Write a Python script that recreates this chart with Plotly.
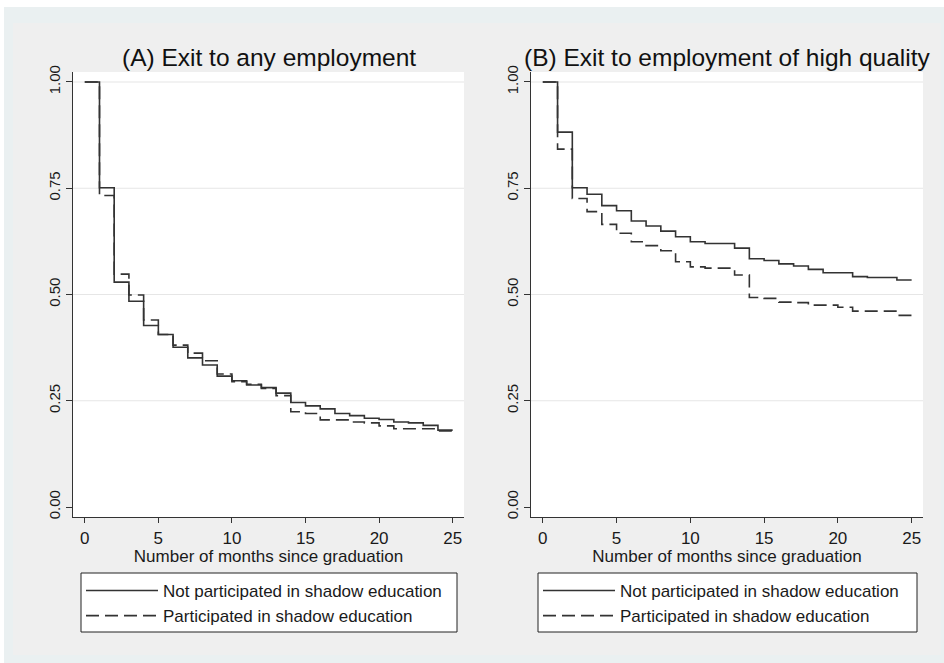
import plotly.graph_objects as go

# ---------------- data ----------------
months = list(range(0, 25))          # start of each monthly interval
end_month = 25

a_not = [1.000, 0.751, 0.529, 0.484, 0.427, 0.406, 0.376, 0.351, 0.334, 0.308,
         0.297, 0.287, 0.281, 0.268, 0.246, 0.238, 0.231, 0.220, 0.215, 0.209,
         0.206, 0.200, 0.198, 0.192, 0.181]
a_part = [1.000, 0.733, 0.548, 0.499, 0.440, 0.406, 0.381, 0.362, 0.344, 0.313,
          0.295, 0.289, 0.279, 0.262, 0.224, 0.220, 0.205, 0.205, 0.200, 0.198,
          0.191, 0.184, 0.184, 0.184, 0.179]
b_not = [1.000, 0.882, 0.751, 0.736, 0.709, 0.697, 0.673, 0.661, 0.649, 0.636,
         0.624, 0.620, 0.620, 0.609, 0.584, 0.580, 0.572, 0.567, 0.559, 0.551,
         0.551, 0.542, 0.540, 0.540, 0.534]
b_part = [1.000, 0.842, 0.726, 0.695, 0.665, 0.644, 0.624, 0.615, 0.603, 0.577,
          0.565, 0.562, 0.562, 0.546, 0.493, 0.491, 0.482, 0.481, 0.475, 0.475,
          0.470, 0.461, 0.461, 0.461, 0.451]

series_names = ["Not participated in shadow education",
                "Participated in shadow education"]
panel_titles = ["(A) Exit to any employment",
                "(B) Exit to employment of high quality"]
x_title = "Number of months since graduation"
x_ticks = [0, 5, 10, 15, 20, 25]
y_ticks = [0.00, 0.25, 0.50, 0.75, 1.00]
grid_y = [0.25, 0.50, 0.75, 1.00]

# ---------------- layout constants ----------------
W, H = 944, 663
FONT = "Liberation Sans, Arial, sans-serif"
LINE_COL = "#333333"
DASH = "13px,6px"

def px_x(p):
    return p / W

def px_y(p):
    return (H - p) / H

xa_dom = [px_x(73), px_x(464)]
xb_dom = [px_x(531), px_x(923)]
y_dom = [px_y(517), px_y(72)]

fig = go.Figure()

def km(vals):
    return months + [end_month], vals + [vals[-1]]

panels = [("x", "y", "legend", a_not, a_part),
          ("x2", "y2", "legend2", b_not, b_part)]
for xa, ya, lg, s_not, s_part in panels:
    for vals, name, dash in [(s_not, series_names[0], "solid"),
                             (s_part, series_names[1], DASH)]:
        xs, ys = km(vals)
        fig.add_trace(go.Scatter(
            x=xs, y=ys, mode="lines", name=name,
            line=dict(shape="hv", color=LINE_COL, width=1.6, dash=dash),
            xaxis=xa, yaxis=ya, legend=lg, showlegend=True,
            hoverinfo="skip"))

axis_common = dict(
    showline=True, linecolor=LINE_COL, linewidth=1.2, automargin=False,
    ticks="outside", tickcolor=LINE_COL, showgrid=False, zeroline=False,
    tickfont=dict(family=FONT, size=17, color="#1a1a1a"),
)
xcommon = dict(axis_common, tickvals=x_ticks, ticklen=5, range=[-0.8, 25.77],
               title=dict(text=x_title, font=dict(family=FONT, size=17, color="#1a1a1a"),
                          standoff=0))
ycommon = dict(axis_common, tickvals=y_ticks, tickformat=".2f", ticklen=6,
               tickangle=-90, range=[-0.0235, 1.0235], domain=y_dom,
               tickfont=dict(family=FONT, size=15, color="#1a1a1a"))

shapes = [
    dict(type="rect", xref="paper", yref="paper", x0=px_x(4), x1=1, y0=0, y1=px_y(7),
         fillcolor="#eaf0f1", line=dict(width=0), layer="below"),
    dict(type="rect", xref="paper", yref="paper", x0=px_x(13), x1=px_x(941),
         y0=px_y(655), y1=px_y(23), fillcolor="#efefef", line=dict(width=0), layer="below"),
]
for xr, yr in [("x", "y"), ("x2", "y2")]:
    shapes.append(dict(type="rect", xref=f"{xr} domain", yref=f"{yr} domain",
                       x0=0, x1=1, y0=0, y1=1, fillcolor="white",
                       line=dict(width=0), layer="below"))
    for g in grid_y:
        shapes.append(dict(type="line", xref=f"{xr} domain", yref=yr,
                           x0=0, x1=1, y0=g, y1=g,
                           line=dict(color="#e6e6e6", width=1.2), layer="below"))
# legend boxes
for x0, x1 in [(81, 457), (538, 917)]:
    shapes.append(dict(type="rect", xref="paper", yref="paper",
                       x0=px_x(x0), x1=px_x(x1), y0=px_y(632), y1=px_y(573),
                       fillcolor="white", line=dict(color="#222222", width=1),
                       layer="below"))

annotations = []
for dom, t in [(xa_dom, panel_titles[0]), (xb_dom, panel_titles[1])]:
    annotations.append(dict(text=t, xref="paper", yref="paper",
                            x=(dom[0] + dom[1]) / 2, y=px_y(57),
                            xanchor="center", yanchor="middle", showarrow=False,
                            font=dict(family=FONT, size=24.5, color="#111111")))

legend_common = dict(orientation="v", bgcolor="rgba(0,0,0,0)", borderwidth=0,
                     font=dict(family=FONT, size=17, color="#1a1a1a"),
                     itemwidth=72, xanchor="left", yanchor="top",
                     y=px_y(573), itemclick=False, itemdoubleclick=False)

fig.update_layout(
    width=W, height=H,
    margin=dict(l=0, r=0, t=0, b=0),
    paper_bgcolor="white", plot_bgcolor="white",
    xaxis=dict(xcommon, domain=xa_dom, anchor="y"),
    yaxis=dict(ycommon, anchor="x"),
    xaxis2=dict(xcommon, domain=xb_dom, anchor="y2"),
    yaxis2=dict(ycommon, anchor="x2"),
    legend=dict(legend_common, x=px_x(81)),
    legend2=dict(legend_common, x=px_x(538)),
    shapes=shapes,
    annotations=annotations,
    showlegend=True,
)

fig.write_html("out.html",
               config={"displayModeBar": False},
               post_script="document.body.style.margin='0';"
                           "document.body.style.overflow='hidden';")
